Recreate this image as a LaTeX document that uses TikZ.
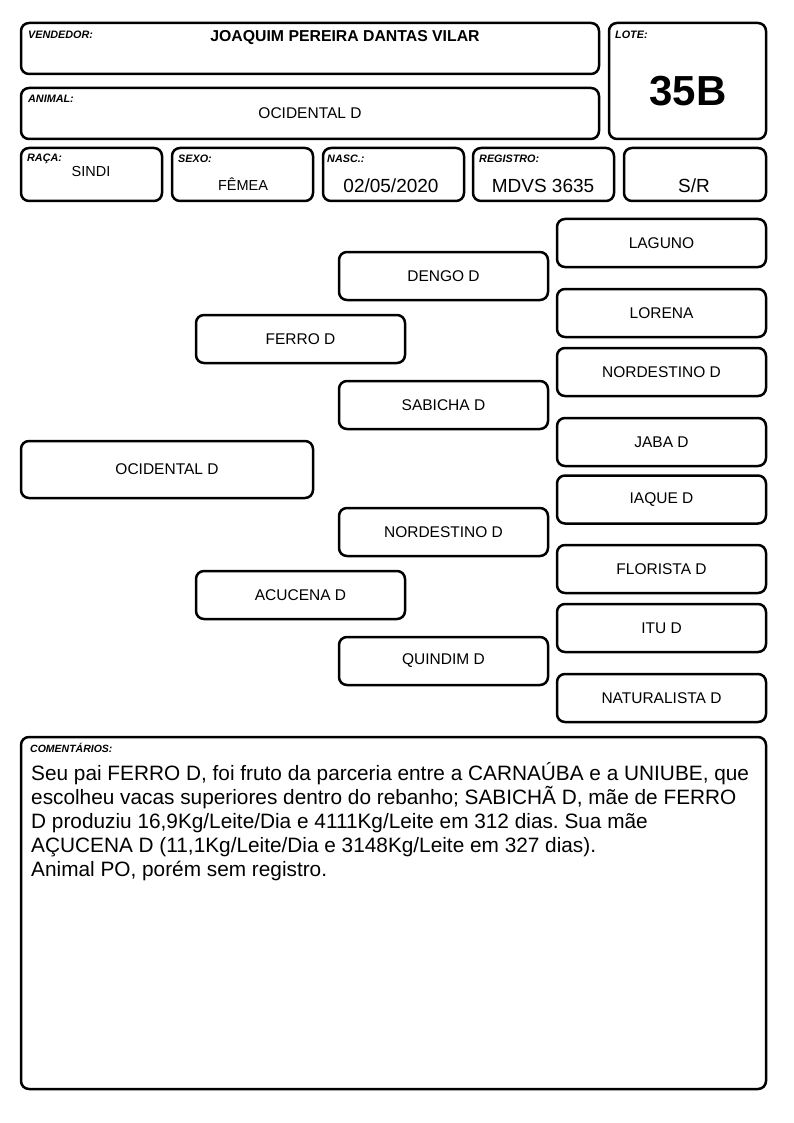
\documentclass[tikz,border=0pt]{standalone}
\usepackage{fontspec}
\setmainfont{Liberation Sans}
\usepackage{tikz}
\usetikzlibrary{positioning}
\frenchspacing

\tikzset{
  frame/.style={draw, line width=2.5pt, rounded corners=8pt, inner sep=0pt},
  pbox/.style={frame, minimum width=209pt, minimum height=48pt, font=\fontsize{15.5}{18}\selectfont},
  lbl/.style={font=\fontsize{10.8}{12}\selectfont\bfseries\itshape, inner sep=0pt, anchor=north west},
  val/.style={font=\fontsize{14.5}{17}\selectfont, inner sep=0pt},
  bigval/.style={font=\fontsize{19}{22}\selectfont, inner sep=0pt},
}

\begin{document}
\begin{tikzpicture}[x=1pt, y=-1pt]
\useasboundingbox (0,0) rectangle (794,1123);

% header
\node[frame, minimum width=578pt, minimum height=51pt] (vend) at (310,48.5) {};
\node[lbl] (vendlbl) at (28,31) {VENDEDOR:};
\node[val, font=\fontsize{15.8}{18}\selectfont\bfseries] (vendname) at (345,38) {JOAQUIM PEREIRA DANTAS VILAR};

\node[frame, minimum width=578pt, minimum height=51pt] (anim) at (310,113.5) {};
\node[lbl] (animlbl) at (28,95) {ANIMAL:};
\node[val, font=\fontsize{15.5}{18}\selectfont] (animname) at (310,113) {OCIDENTAL D};

\node[frame, minimum width=157pt, minimum height=116pt] (lote) at (687.5,81) {};
\node[lbl] (lotelbl) at (615,31) {LOTE:};
\node[inner sep=0pt, font=\fontsize{42}{46}\selectfont\bfseries] (loteval) at (688,91) {35B};

% second row
\node[frame, minimum width=141pt, minimum height=53pt] (raca) at (91.5,174.5) {};
\node[lbl] (racalbl) at (27,154) {RAÇA:};
\node[val] (racaval) at (91,172) {SINDI};

\node[frame, minimum width=141pt, minimum height=53pt] (sexo) at (242.5,174.5) {};
\node[lbl] (sexolbl) at (178,155) {SEXO:};
\node[val] (sexoval) at (243,184) {FÊMEA};

\node[frame, minimum width=141pt, minimum height=53pt] (nasc) at (393.5,174.5) {};
\node[lbl] (nasclbl) at (327,155) {NASC.:};
\node[bigval] (nascval) at (391,186) {02/05/2020};

\node[frame, minimum width=141pt, minimum height=53pt] (reg) at (543.5,174.5) {};
\node[lbl] (reglbl) at (479,155) {REGISTRO:};
\node[bigval] (regval) at (543,186) {MDVS 3635};

\node[frame, minimum width=142pt, minimum height=53pt] (sr) at (695,174.5) {};
\node[bigval] (srval) at (694,186) {S/R};

% pedigree
\node[frame, minimum width=292pt, minimum height=57pt, font=\fontsize{15.5}{18}\selectfont] (ocid) at (167,469.5) {OCIDENTAL D};

\node[pbox] (ferro) at (300.5,339) {FERRO D};
\node[pbox] (acucena) at (300.5,595) {ACUCENA D};

\node[pbox] (dengo) at (443.5,276) {DENGO D};
\node[pbox] (sabicha) at (443.5,405) {SABICHA D};
\node[pbox] (nord2) at (443.5,532) {NORDESTINO D};
\node[pbox] (quindim) at (443.5,661) {QUINDIM D};

\node[pbox] (laguno) at (661.5,243) {LAGUNO};
\node[pbox] (lorena) at (661.5,313) {LORENA};
\node[pbox] (nord3) at (661.5,372) {NORDESTINO D};
\node[pbox] (jaba) at (661.5,442) {JABA D};
\node[pbox] (iaque) at (661.5,499.5) {IAQUE D};
\node[pbox] (florista) at (661.5,569) {FLORISTA D};
\node[pbox] (itu) at (661.5,628) {ITU D};
\node[pbox] (natur) at (661.5,698) {NATURALISTA D};

% comments
\node[frame, minimum width=745pt, minimum height=352pt] (coment) at (393.5,913) {};
\node[lbl, font=\fontsize{10.5}{12}\selectfont\bfseries\itshape] (comentlbl) at (30,743) {COMENTÁRIOS:};
\node[inner sep=0pt, anchor=north west, align=left, font=\fontsize{20.8}{24}\selectfont] (comenttxt) at (31,762)
  {Seu pai FERRO D, foi fruto da parceria entre a CARNAÚBA e a UNIUBE, que\\
   escolheu vacas superiores dentro do rebanho; SABICHÃ D, mãe de FERRO\\
   D produziu 16,9Kg/Leite/Dia e 4111Kg/Leite em 312 dias. Sua mãe\\
   AÇUCENA D (11,1Kg/Leite/Dia e 3148Kg/Leite em 327 dias).\\
   Animal PO, porém sem registro.};
\end{tikzpicture}
\end{document}
